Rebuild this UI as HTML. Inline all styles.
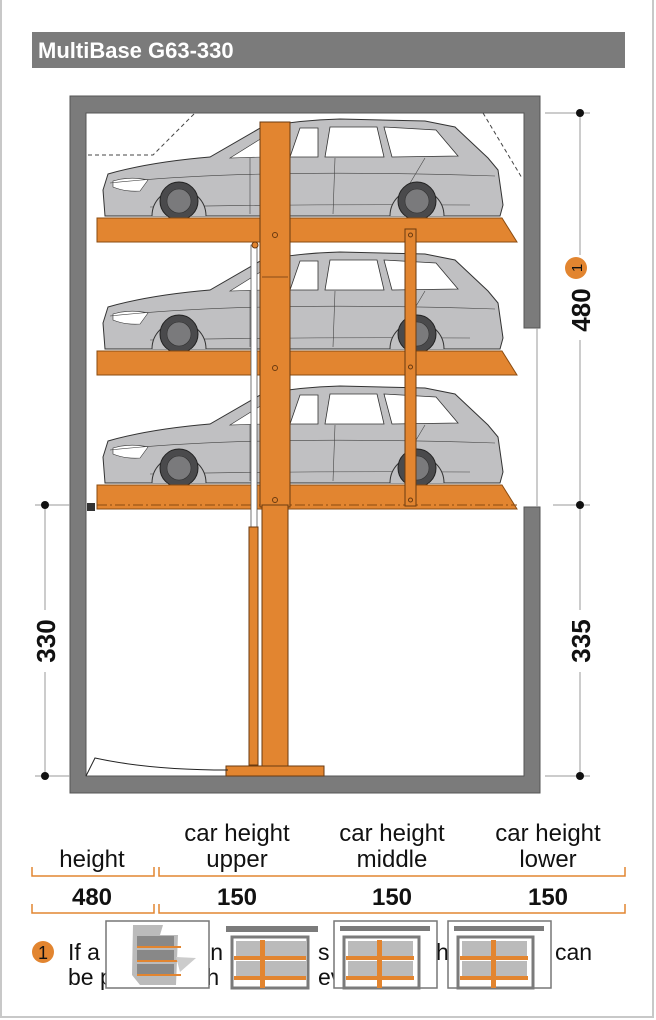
<!DOCTYPE html>
<html><head><meta charset="utf-8"><style>
html,body{margin:0;padding:0;background:#fff}
body{width:656px;height:1020px;overflow:hidden;position:relative}
svg{position:absolute;left:0;top:0}
text{font-family:"Liberation Sans",Arial,sans-serif}
</style></head><body>
<svg width="656" height="1020" viewBox="0 0 656 1020" xmlns="http://www.w3.org/2000/svg">
<defs>
<g id="car">
  <path d="M105,216 L103,190 L108,174 Q150,162 210,157 L262,127 Q300,120 340,119 L425,121 L455,127 L488,158 L498,170 L503,205 L500,216 Z" fill="#c0c0c2" stroke="#333" stroke-width="1"/>
  <path d="M300,128 L318,128 L318,157 L290,157 Z" fill="#fff" stroke="#333" stroke-width="0.8"/>
  <path d="M330,127 L377,127 L384,157 L325,157 Z" fill="#fff" stroke="#333" stroke-width="0.8"/>
  <path d="M384,127 L436,130 L458,156 L392,157 Z" fill="#fff" stroke="#333" stroke-width="0.8"/>
  <path d="M230,158 L262,138 L262,157 Z" fill="#fff" stroke="#333" stroke-width="0.6"/>
  <path d="M113,181 Q130,176 148,180 L140,191 Q125,192 113,187 Z" fill="#fff" stroke="#333" stroke-width="0.6"/>
  <path d="M110,183 Q250,168 495,176" fill="none" stroke="#444" stroke-width="0.6"/>
  <path d="M150,207 Q300,204 470,205" fill="none" stroke="#444" stroke-width="0.6"/>
  <path d="M250,158 L250,214 M335,158 L333,214 M425,158 L400,200" fill="none" stroke="#444" stroke-width="0.6"/>
  <path d="M152,216 A27,27 0 0 1 206,216" fill="#c0c0c2" stroke="#333" stroke-width="1"/>
  <circle cx="179" cy="201" r="19" fill="#4a4a4c" stroke="#222"/>
  <circle cx="179" cy="201" r="12" fill="#7a7a7c" stroke="#333" stroke-width="0.6"/>
  <path d="M390,216 A27,27 0 0 1 444,216" fill="#c0c0c2" stroke="#333" stroke-width="1"/>
  <circle cx="417" cy="201" r="19" fill="#4a4a4c" stroke="#222"/>
  <circle cx="417" cy="201" r="12" fill="#7a7a7c" stroke="#333" stroke-width="0.6"/>
</g>
<g id="plat">
  <path d="M97,0 L502,0 L517,24 L97,24 Z" fill="#e28530" stroke="#8a4b10" stroke-width="1"/>
</g>
</defs>

<rect x="1" y="-2" width="652" height="1019" fill="none" stroke="#c8c8c8" stroke-width="2"/>

<rect x="32" y="32" width="593" height="36" fill="#7b7b7b"/>
<text x="38" y="58" font-size="22" font-weight="bold" fill="#fff">MultiBase G63-330</text>

<path d="M70,96 L540,96 L540,328 L524,328 L524,113 L86,113 L86,776 L524,776 L524,507 L540,507 L540,793 L70,793 Z" fill="#7b7b7b" stroke="#555" stroke-width="1"/>
<line x1="537" y1="328" x2="537" y2="507" stroke="#999" stroke-width="1"/>
<rect x="87" y="503" width="8" height="8" fill="#333"/>

<path d="M88,155 L153,155 L195,113" fill="none" stroke="#444" stroke-width="1" stroke-dasharray="4,3"/>
<path d="M483,113 L522,178" fill="none" stroke="#444" stroke-width="1" stroke-dasharray="4,3"/>

<use href="#car"/>
<use href="#car" transform="translate(0,133)"/>
<use href="#car" transform="translate(0,267)"/>

<use href="#plat" transform="translate(0,218)"/>
<use href="#plat" transform="translate(0,351)"/>
<use href="#plat" transform="translate(0,485)"/>
<line x1="97" y1="505" x2="517" y2="505" stroke="#8a4b10" stroke-width="1" stroke-dasharray="10,3,2,3"/>

<rect x="251" y="245" width="6" height="285" fill="#fff" stroke="#555" stroke-width="0.8"/>
<rect x="249" y="527" width="9" height="238" fill="#e28530" stroke="#6a3a10" stroke-width="1"/>
<circle cx="255" cy="245" r="3" fill="#e28530" stroke="#6a3a10"/>

<rect x="260" y="122" width="30" height="385" fill="#e28530" stroke="#6a3a10" stroke-width="1"/>
<rect x="262" y="505" width="26" height="262" fill="#e28530" stroke="#6a3a10" stroke-width="1"/>
<line x1="262" y1="277" x2="288" y2="277" stroke="#6a3a10" stroke-width="0.8"/>
<circle cx="275" cy="235" r="2.5" fill="none" stroke="#6a3a10"/>
<circle cx="275" cy="368" r="2.5" fill="none" stroke="#6a3a10"/>
<circle cx="275" cy="500" r="2.5" fill="none" stroke="#6a3a10"/>
<rect x="226" y="766" width="98" height="10" fill="#e28530" stroke="#6a3a10" stroke-width="1"/>

<rect x="405" y="229" width="11" height="277" fill="#e28530" stroke="#6a3a10" stroke-width="1"/>
<circle cx="410.5" cy="235" r="2" fill="none" stroke="#6a3a10"/>
<circle cx="410.5" cy="367" r="2" fill="none" stroke="#6a3a10"/>
<circle cx="410.5" cy="500" r="2" fill="none" stroke="#6a3a10"/>

<path d="M86,776 L95,758 Q150,770 228,770" fill="none" stroke="#222" stroke-width="1"/>

<g stroke="#999" stroke-width="1">
<line x1="545" y1="113" x2="590" y2="113"/>
<line x1="553" y1="505" x2="590" y2="505"/>
<line x1="545" y1="776" x2="590" y2="776"/>
<line x1="580" y1="113" x2="580" y2="255"/>
<line x1="580" y1="340" x2="580" y2="610"/>
<line x1="580" y1="672" x2="580" y2="776"/>
<line x1="35" y1="505" x2="70" y2="505"/>
<line x1="35" y1="776" x2="70" y2="776"/>
<line x1="45" y1="505" x2="45" y2="610"/>
<line x1="45" y1="672" x2="45" y2="776"/>
</g>
<g fill="#111">
<circle cx="580" cy="113" r="4"/><circle cx="580" cy="505" r="4"/><circle cx="580" cy="776" r="4"/>
<circle cx="45" cy="505" r="4"/><circle cx="45" cy="776" r="4"/>
</g>
<text transform="translate(590,310) rotate(-90)" font-size="26" font-weight="bold" text-anchor="middle" fill="#111">480</text>
<circle cx="576" cy="268" r="11" fill="#e28530"/>
<text transform="translate(582,268) rotate(-90)" font-size="15" text-anchor="middle" fill="#111">1</text>
<text transform="translate(590,641) rotate(-90)" font-size="26" font-weight="bold" text-anchor="middle" fill="#111">335</text>
<text transform="translate(55,641) rotate(-90)" font-size="26" font-weight="bold" text-anchor="middle" fill="#111">330</text>

<g font-size="24" fill="#111" text-anchor="middle">
<text x="92" y="867">height</text>
<text x="237" y="841">car height</text><text x="237" y="867">upper</text>
<text x="392" y="841">car height</text><text x="392" y="867">middle</text>
<text x="548" y="841">car height</text><text x="548" y="867">lower</text>
</g>
<g font-size="24" font-weight="bold" fill="#111" text-anchor="middle">
<text x="92" y="905">480</text>
<text x="237" y="905">150</text>
<text x="392" y="905">150</text>
<text x="548" y="905">150</text>
</g>
<g fill="none" stroke="#e28530" stroke-width="1.5">
<path d="M32,867 L32,876 L154,876 L154,867"/>
<path d="M159,867 L159,876 L625,876 L625,867"/>
<path d="M32,904 L32,913 L154,913 L154,904"/>
<path d="M159,904 L159,913 L625,913 L625,904"/>
</g>

<circle cx="43" cy="952" r="11" fill="#e28530"/>
<text x="43" y="959" font-size="18" text-anchor="middle" fill="#111">1</text>
<g font-size="23" fill="#111">
<text x="68" y="960">If a</text>
<text x="200" y="960">lin</text>
<text x="318" y="960">s</text>
<text x="436" y="960">h</text>
<text x="555" y="960">can</text>
<text x="68" y="985">be p</text>
<text x="200" y="985">th</text>
<text x="318" y="985">ev</text>
</g>

<rect x="106" y="921" width="103" height="67" fill="#fff" stroke="#777" stroke-width="1.5"/>
<path d="M133,925 L163,925 L160,935 L178,935 L176,985 L140,985 L132,975 Z" fill="#bbb"/>
<rect x="137" y="936" width="37" height="10" fill="#888"/><rect x="137" y="950" width="37" height="10" fill="#888"/><rect x="137" y="964" width="37" height="10" fill="#888"/>
<rect x="137" y="946" width="44" height="2" fill="#e28530"/><rect x="137" y="960" width="44" height="2" fill="#e28530"/><rect x="137" y="974" width="44" height="2" fill="#e28530"/>
<path d="M176,957 L196,958 L180,972 Z" fill="#ccc"/>

<rect x="226" y="926" width="92" height="62" fill="#fff"/>
<rect x="226" y="926" width="92" height="6" fill="#7b7b7b"/>
<rect x="232" y="937" width="76" height="51" fill="none" stroke="#7b7b7b" stroke-width="3"/>
<rect x="236" y="941" width="70" height="15" fill="#bbb"/><rect x="236" y="961" width="70" height="15" fill="#bbb"/>
<rect x="234" y="956" width="72" height="4" fill="#e28530"/><rect x="234" y="976" width="72" height="4" fill="#e28530"/>
<rect x="260" y="940" width="5" height="48" fill="#e28530"/>

<rect x="334" y="921" width="103" height="67" fill="#fff" stroke="#777" stroke-width="1.5"/>
<rect x="340" y="926" width="90" height="5" fill="#7b7b7b"/>
<rect x="344" y="937" width="75" height="51" fill="none" stroke="#7b7b7b" stroke-width="3"/>
<rect x="348" y="941" width="65" height="15" fill="#bbb"/><rect x="348" y="961" width="65" height="15" fill="#bbb"/>
<rect x="346" y="956" width="68" height="4" fill="#e28530"/><rect x="346" y="976" width="68" height="4" fill="#e28530"/>
<rect x="377" y="940" width="5" height="48" fill="#e28530"/>

<rect x="448" y="921" width="103" height="67" fill="#fff" stroke="#777" stroke-width="1.5"/>
<rect x="454" y="926" width="90" height="5" fill="#7b7b7b"/>
<rect x="458" y="937" width="75" height="51" fill="none" stroke="#7b7b7b" stroke-width="3"/>
<rect x="462" y="941" width="65" height="15" fill="#bbb"/><rect x="462" y="961" width="65" height="15" fill="#bbb"/>
<rect x="460" y="956" width="68" height="4" fill="#e28530"/><rect x="460" y="976" width="68" height="4" fill="#e28530"/>
<rect x="491" y="940" width="5" height="48" fill="#e28530"/>
</svg>
</body></html>
